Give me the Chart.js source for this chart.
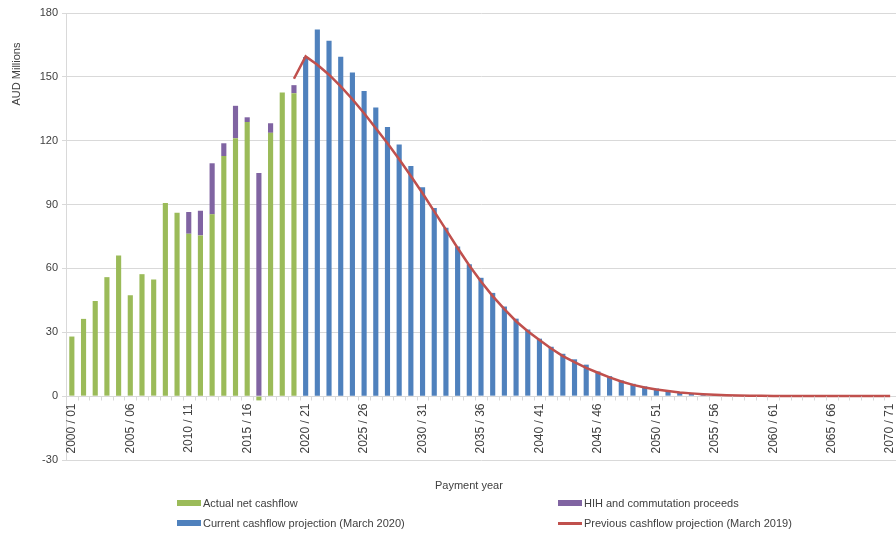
<!DOCTYPE html>
<html>
<head>
<meta charset="utf-8">
<script src="https://cdn.jsdelivr.net/npm/chart.js@4/dist/chart.umd.min.js"></script>
<style>
  body { margin: 0; background: #fff; }
  #wrap { position: relative; width: 896px; height: 533px; font-family: "Liberation Sans", Arial, sans-serif; color: #404040; }
  #chart { position: absolute; left: 0; top: 0; }
  .xtitle { position: absolute; left: 435px; top: 479px; font-size: 11px; }
  .leg { position: absolute; font-size: 11px; line-height: 12px; white-space: nowrap; }
  .leg .sw { display: inline-block; width: 24px; height: 6px; vertical-align: middle; margin-right: 2px; margin-top: -2px; }
  .leg .ln { display: inline-block; width: 24px; height: 3px; vertical-align: middle; margin-right: 2px; margin-top: -2px; }
</style>
</head>
<body>
<div id="wrap">
  <canvas id="chart" width="896" height="533"></canvas>
  <div class="xtitle">Payment year</div>
  <div class="leg" style="left:177px; top:497px;"><span class="sw" style="background:#9BBB59"></span>Actual net cashflow</div>
  <div class="leg" style="left:558px; top:497px;"><span class="sw" style="background:#8064A2"></span>HIH and commutation proceeds</div>
  <div class="leg" style="left:177px; top:517px;"><span class="sw" style="background:#4F81BD"></span>Current cashflow projection (March 2020)</div>
  <div class="leg" style="left:558px; top:517px;"><span class="ln" style="background:#C0504D"></span>Previous cashflow projection (March 2019)</div>
</div>
<script>
// payment years, 2000/01 .. 2070/71
const years = [
  '2000 / 01', '2001 / 02', '2002 / 03', '2003 / 04', '2004 / 05', '2005 / 06', '2006 / 07', '2007 / 08', '2008 / 09', '2009 / 10',
  '2010 / 11', '2011 / 12', '2012 / 13', '2013 / 14', '2014 / 15', '2015 / 16', '2016 / 17', '2017 / 18', '2018 / 19', '2019 / 20',
  '2020 / 21', '2021 / 22', '2022 / 23', '2023 / 24', '2024 / 25', '2025 / 26', '2026 / 27', '2027 / 28', '2028 / 29', '2029 / 30',
  '2030 / 31', '2031 / 32', '2032 / 33', '2033 / 34', '2034 / 35', '2035 / 36', '2036 / 37', '2037 / 38', '2038 / 39', '2039 / 40',
  '2040 / 41', '2041 / 42', '2042 / 43', '2043 / 44', '2044 / 45', '2045 / 46', '2046 / 47', '2047 / 48', '2048 / 49', '2049 / 50',
  '2050 / 51', '2051 / 52', '2052 / 53', '2053 / 54', '2054 / 55', '2055 / 56', '2056 / 57', '2057 / 58', '2058 / 59', '2059 / 60',
  '2060 / 61', '2061 / 62', '2062 / 63', '2063 / 64', '2064 / 65', '2065 / 66', '2066 / 67', '2067 / 68', '2068 / 69', '2069 / 70',
  '2070 / 71'
];
const tickYears = ['2000 / 01', '2005 / 06', '2010 / 11', '2015 / 16', '2020 / 21', '2025 / 26', '2030 / 31', '2035 / 36',
  '2040 / 41', '2045 / 46', '2050 / 51', '2055 / 56', '2060 / 61', '2065 / 66', '2070 / 71'];

// 2000/01 .. 2019/20
const actualNet = [28, 36.3, 44.7, 55.9, 66.1, 47.4, 57.3, 54.8, 90.7, 86.2,
  76.3, 75.5, 85.4, 112.8, 121.2, 128.8, -2, 123.7, 142.7, 142.3];
const hihProceeds = [0, 0, 0, 0, 0, 0, 0, 0, 0, 0,
  10.2, 11.6, 24.0, 6.0, 15.2, 2.2, 104.8, 4.5, 0, 3.8];
// 2020/21 .. 2070/71
const currentProj = [159.3, 172.3, 167.0, 159.4, 152.1, 143.4, 135.6, 126.5, 118.2, 108.1,
  98.1, 88.4, 79.1, 70.3, 62.0, 55.6, 48.5, 42.1, 36.4, 31.3,
  27.0, 23.2, 19.9, 17.3, 14.8, 11.6, 9.4, 7.4, 5.8, 4.6,
  3.6, 2.7, 1.9, 1.3, 0.8, 0.5, 0.3, 0.2, 0.15, 0.1,
  0.07, 0.05, 0.04, 0.03, 0.02, 0.02, 0.01, 0.01, 0.01, 0, 0];
// 2019/20 .. 2070/71
const previousProj = [149.1, 159.6, 155.7, 151.0, 145.5, 139.5, 132.9, 125.9, 118.8, 111.3,
  103.4, 95.3, 86.8, 78.2, 69.6, 61.4, 53.9, 47.0, 40.9, 35.2,
  30.5, 26.4, 22.4, 18.8, 16.0, 13.3, 11.0, 8.8, 6.9, 5.3,
  4.1, 3.1, 2.4, 1.7, 1.3, 0.9, 0.6, 0.4, 0.3, 0.2,
  0.15, 0.1, 0.08, 0.06, 0.05, 0.04, 0.03, 0.02, 0.02, 0.01, 0.01, 0.01];

function place(values, start) {
  const out = years.map(() => null);
  values.forEach((v, i) => { out[start + i] = v === 0 ? null : v; });
  return out;
}

const textColor = '#404040';
const gridColor = '#d9d9d9';

// x labels sit just under the zero line, ticks at category edges
const zeroAxis = {
  id: 'zeroAxis',
  afterDatasetsDraw(chart) {
    const ctx = chart.ctx;
    const x = chart.scales.x, y = chart.scales.y;
    const y0 = Math.round(y.getPixelForValue(0)) + 0.5;
    const step = (x.right - x.left) / years.length;
    ctx.save();
    ctx.strokeStyle = gridColor;
    ctx.lineWidth = 1;
    ctx.beginPath();
    for (let i = 0; i <= years.length; i++) {
      const px = Math.round(x.left + i * step) + 0.5;
      ctx.moveTo(px, y0);
      ctx.lineTo(px, y0 + 4);
    }
    ctx.stroke();
    ctx.fillStyle = textColor;
    ctx.font = '12px "Liberation Sans", Arial, sans-serif';
    ctx.textAlign = 'right';
    ctx.textBaseline = 'middle';
    tickYears.forEach(lbl => {
      const px = x.getPixelForValue(years.indexOf(lbl));
      ctx.save();
      ctx.translate(px, y0 + 7);
      ctx.rotate(-Math.PI / 2);
      ctx.fillText(lbl, 0, 0);
      ctx.restore();
    });
    // y axis title, near the top as in the original
    ctx.font = '11px "Liberation Sans", Arial, sans-serif';
    ctx.save();
    ctx.translate(17, 74);
    ctx.rotate(-Math.PI / 2);
    ctx.textAlign = 'center';
    ctx.fillText('AUD Millions', 0, 0);
    ctx.restore();
    ctx.restore();
  }
};

new Chart(document.getElementById('chart'), {
  type: 'bar',
  data: {
    labels: years,
    datasets: [
      {
        type: 'line',
        label: 'Previous cashflow projection (March 2019)',
        data: place(previousProj, 19),
        borderColor: '#C0504D',
        borderWidth: 2.5,
        pointRadius: 0,
        tension: 0,
        stack: 'prev',
        order: 0
      },
      {
        label: 'Actual net cashflow',
        data: place(actualNet, 0),
        backgroundColor: '#9BBB59',
        stack: 'bars',
        order: 1
      },
      {
        label: 'HIH and commutation proceeds',
        data: place(hihProceeds, 0),
        backgroundColor: '#8064A2',
        stack: 'bars',
        order: 1
      },
      {
        label: 'Current cashflow projection (March 2020)',
        data: place(currentProj, 20),
        backgroundColor: '#4F81BD',
        stack: 'bars',
        order: 1
      }
    ]
  },
  options: {
    responsive: false,
    animation: false,
    layout: { padding: { top: 13, bottom: 73, right: 0, left: 0 } },
    datasets: { bar: { barPercentage: 0.44, categoryPercentage: 1 } },
    plugins: {
      legend: { display: false },
      tooltip: { enabled: false }
    },
    scales: {
      x: {
        stacked: true,
        display: false
      },
      y: {
        stacked: true,
        min: -30,
        max: 180,
        afterFit(scale) { scale.width = 66; },
        ticks: {
          stepSize: 30,
          color: textColor,
          padding: 4,
          font: { family: '"Liberation Sans", Arial, sans-serif', size: 11 }
        },
        grid: { color: gridColor, tickLength: 4 },
        border: { color: gridColor }
      }
    }
  },
  plugins: [zeroAxis]
});
</script>
</body>
</html>
